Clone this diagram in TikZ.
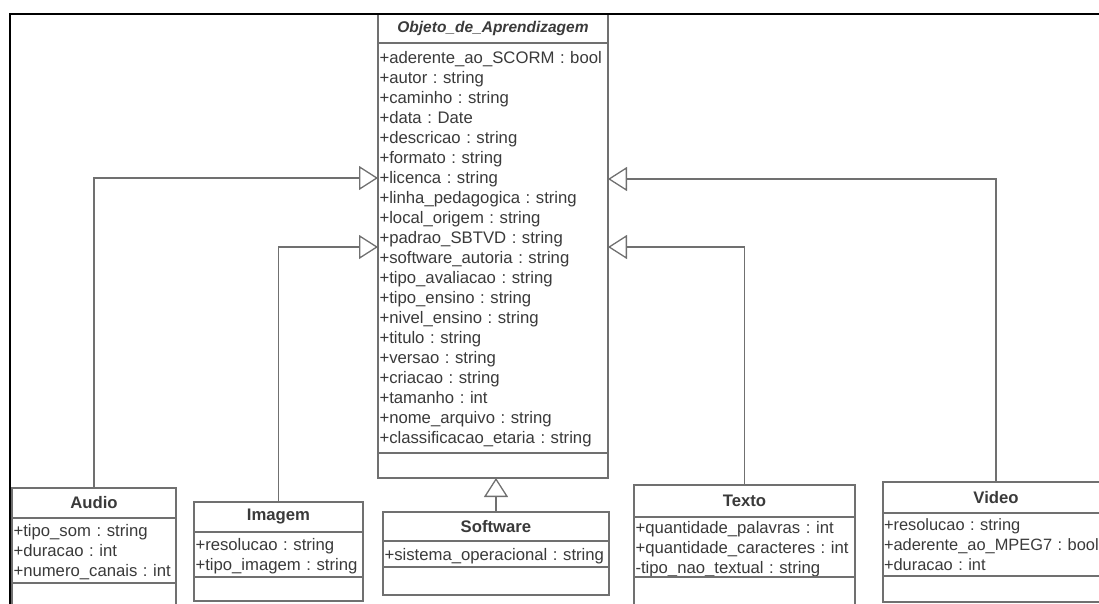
\documentclass[tikz,border=0pt]{standalone}
\usepackage{fontspec}
\setmainfont{Liberation Sans}
\usetikzlibrary{arrows.meta}
\definecolor{linegray}{RGB}{112,112,112}
\definecolor{txtgray}{RGB}{58,58,58}
\newcommand{\uatt}{\fontsize{16.7}{20}\selectfont\frenchspacing}
% one attribute row: 20pt tall, baseline 16pt below its top
\newcommand{\rw}{\rule[-4pt]{0pt}{20pt}}
\begin{document}
\begin{tikzpicture}[x=1pt,y=-1pt,
  box/.style={draw=linegray, line width=1.3pt, fill=white, text=txtgray,
    inner sep=0pt, outer sep=0pt, anchor=north west},
  clsname/.style={box, font=\uatt\bfseries, align=center},
  clsattr/.style={box, font=\uatt, align=left, inner xsep=1.5pt},
  clsops/.style={box},
  gen/.style={draw=linegray, line width=1.3pt,
    -{Triangle[open, length=19pt, width=24pt, line width=1.3pt]}},
  frame/.style={draw=black, line width=2.7pt}]
\useasboundingbox (0,0) rectangle (1099,604);
\clip (0,0) rectangle (1099,604);

% abstract superclass
\node[clsname, minimum width=230pt, minimum height=29pt,
  font=\fontsize{15.5}{20}\selectfont\bfseries\itshape] (obj-h) at (378,14)
  {Objeto\_de\_Aprendizagem};
\node[clsattr, text width=227pt, minimum height=410pt] (obj-a) at (obj-h.south west)
  {\rw+aderente\_ao\_SCORM : bool\\
   \rw+autor : string\\
   \rw+caminho : string\\
   \rw+data : Date\\
   \rw+descricao : string\\
   \rw+formato : string\\
   \rw+licenca : string\\
   \rw+linha\_pedagogica : string\\
   \rw+local\_origem : string\\
   \rw+padrao\_SBTVD : string\\
   \rw+software\_autoria : string\\
   \rw+tipo\_avaliacao : string\\
   \rw+tipo\_ensino : string\\
   \rw+nivel\_ensino : string\\
   \rw+titulo : string\\
   \rw+versao : string\\
   \rw+criacao : string\\
   \rw+tamanho : int\\
   \rw+nome\_arquivo : string\\
   \rw+classificacao\_etaria : string};
\node[clsops, minimum width=230pt, minimum height=25pt] (obj-o) at (obj-a.south west) {};

% Audio
\node[clsname, minimum width=164pt, minimum height=30pt] (audio-h) at (12,488) {Audio};
\node[clsattr, text width=161pt, minimum height=65pt] (audio-a) at (audio-h.south west)
  {\rw+tipo\_som : string\\
   \rw+duracao : int\\
   \rw+numero\_canais : int};
\node[clsops, minimum width=164pt, minimum height=30pt] (audio-o) at (audio-a.south west) {};

% Imagem
\node[clsname, minimum width=169pt, minimum height=30pt] (img-h) at (194,502) {Imagem};
\node[clsattr, text width=166pt, minimum height=45pt] (img-a) at (img-h.south west)
  {\rw+resolucao : string\\
   \rw+tipo\_imagem : string};
\node[clsops, minimum width=169pt, minimum height=24pt] (img-o) at (img-a.south west) {};

% Software
\node[clsname, minimum width=226pt, minimum height=29pt] (soft-h) at (383,512) {Software};
\node[clsattr, text width=223pt, minimum height=26pt] (soft-a) at (soft-h.south west)
  {\rw+sistema\_operacional : string};
\node[clsops, minimum width=226pt, minimum height=28pt] (soft-o) at (soft-a.south west) {};

% Texto
\node[clsname, minimum width=221pt, minimum height=32pt] (txt-h) at (634,485) {Texto};
\node[clsattr, text width=218pt, minimum height=60pt] (txt-a) at (txt-h.south west)
  {\rw+quantidade\_palavras : int\\
   \rw+quantidade\_caracteres : int\\
   \rw-tipo\_nao\_textual : string};
\node[clsops, minimum width=221pt, minimum height=35pt] (txt-o) at (txt-a.south west) {};

% Video
\node[clsname, minimum width=226pt, minimum height=31pt] (vid-h) at (883,482) {Video};
\node[clsattr, text width=223pt, minimum height=63pt, inner xsep=1pt,
  font=\fontsize{16.4}{20}\selectfont\frenchspacing] (vid-a) at (vid-h.south west)
  {\rw+resolucao : string\\
   \rw+aderente\_ao\_MPEG7 : bool\\
   \rw+duracao : int};
\node[clsops, minimum width=226pt, minimum height=26pt] (vid-o) at (vid-a.south west) {};

% attachment points on the superclass sides
\path (obj-a.north west) ++(0,135) coordinate (inAudio)
      (obj-a.north west) ++(0,204) coordinate (inImg)
      (obj-a.north east) ++(0,136) coordinate (inVid)
      (obj-a.north east) ++(0,204) coordinate (inTxt);

% generalisations
\draw[gen] (audio-h.north) |- (inAudio);
\draw[gen] (img-h.north) |- (inImg);
\draw[gen] (vid-h.north) |- (inVid);
\draw[gen] (txt-h.north) |- (inTxt);
\draw[gen] (soft-h.north) -- (soft-h.north |- obj-o.south);

% window frame
\draw[frame] (10,604) -- (10,14) -- (1099,14);
\end{tikzpicture}
\end{document}
